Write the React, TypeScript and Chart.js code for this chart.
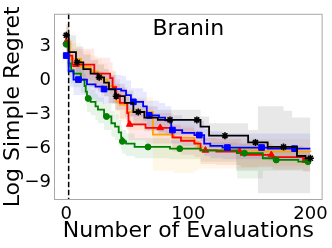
import React, { useEffect, useRef } from 'react';
import { Chart, registerables } from 'chart.js';
Chart.register(...registerables);

const FONT = 'DejaVu Sans';

const TITLE = 'Branin';
const X_LABEL = 'Number of Evaluations';
const Y_LABEL = 'Log Simple Regret';
const X_TICKS = [0, 100, 200];
const Y_TICKS = [-9, -6, -3, 0, 3];
const VLINE_X = 2;

// Black (star markers)
const blackX = [0, 2, 8, 14, 20, 26, 31, 35, 40, 48, 55, 64, 75, 110, 117, 139, 149, 157, 165, 178, 185, 189, 196, 200];
const blackY = [4.0, 2.5, 1.6, 1.0, 0.6, 0.27, -0.2, -0.8, -1.4, -2.0, -2.8, -3.3, -3.5, -4.1, -4.9, -4.9, -5.5, -5.5, -5.9, -5.9, -5.9, -6.7, -6.9, -6.9];
const blackUp = [5.0, 4.0, 3.0, 2.3, 1.8, 1.4, 1.0, 0.4, -0.3, -0.9, -1.7, -2.3, -2.6, -3.2, -3.8, -3.8, -4.4, -2.3, -2.3, -2.7, -3.3, -3.3, -3.3, -3.3];
const blackLo = [2.8, 1.2, 0.3, -0.3, -0.6, -1.0, -1.4, -2.0, -2.6, -3.2, -4.0, -4.5, -4.8, -5.4, -6.0, -8.0, -8.0, -10.0, -10.0, -10.0, -10.0, -10.0, -10.0, -10.0];
const blackMarks = [0, 9, 27, 41, 59, 85, 107, 130, 155, 178, 200];

// Blue (square markers)
const blueX = [0, 2, 6, 17, 24, 30, 45, 49, 53, 63, 66, 76, 81, 86, 95, 105, 113, 118, 128, 165, 200];
const blueY = [2.2, 0.8, 0.07, -0.35, -0.55, -0.77, -0.9, -1.3, -1.9, -2.3, -3.1, -3.3, -3.55, -4.4, -4.65, -4.85, -5.6, -5.8, -5.95, -6.05, -6.05];
const blueUp = [3.6, 2.2, 1.4, 1.0, 0.8, 0.5, 0.4, 0.0, -0.7, -1.0, -1.8, -2.0, -2.3, -3.1, -3.4, -3.6, -4.3, -4.5, -4.7, -4.7, -4.7];
const blueLo = [0.8, -0.6, -1.3, -1.7, -1.9, -2.1, -2.2, -2.6, -3.2, -3.6, -4.4, -4.6, -4.8, -5.6, -5.8, -6.0, -6.7, -6.9, -7.0, -7.1, -7.1];
const blueMarks = [0, 10, 31, 55, 68, 87, 109, 132, 160, 187];

// Red (triangle markers)
const redX = [0, 2, 5, 23, 36, 38, 41, 44, 50, 51, 65, 87, 94, 105, 110, 123, 143, 169, 194, 200];
const redY = [3.4, 2.2, 1.4, 0.6, 0.2, -0.6, -1.3, -2.0, -2.9, -3.9, -4.2, -5.05, -5.35, -5.6, -6.2, -6.3, -6.6, -6.8, -7.1, -7.1];
const redUp = [4.8, 3.6, 2.8, 2.0, 1.6, 0.8, 0.1, -0.6, -1.5, -2.5, -2.9, -3.9, -4.2, -4.5, -5.1, -5.2, -5.6, -5.8, -6.2, -6.2];
const redLo = [2.0, 0.8, 0.0, -0.8, -1.2, -2.0, -2.7, -3.4, -4.3, -5.3, -5.6, -6.3, -6.6, -6.8, -7.4, -7.5, -7.7, -7.9, -8.1, -8.1];
const redMarks = [0, 8, 52, 77, 114, 142, 168, 196];

// Orange (no markers)
const orangeX = [0, 3, 12, 20, 26, 29, 34, 40, 41, 44, 50, 71, 88, 105, 108, 111, 157, 200];
const orangeY = [3.4, 1.9, 1.2, 0.8, 0.5, 0.07, -0.5, -1.4, -1.9, -2.15, -2.8, -4.8, -5.1, -5.5, -5.9, -6.2, -6.3, -6.35];
const orangeUp = [4.8, 3.3, 2.6, 2.2, 1.9, 1.5, 0.9, 0.0, -0.5, -0.8, -1.5, -3.6, -4.0, -4.4, -4.8, -5.1, -5.2, -5.2];
const orangeLo = [2.0, 0.5, -0.2, -0.6, -0.9, -1.4, -2.0, -2.9, -3.4, -3.7, -4.4, -8.0, -8.2, -8.0, -7.8, -7.8, -7.6, -7.6];
const orangeMarks: number[] = [];

// Green (circle markers)
const greenX = [0, 2, 4, 6, 12, 15, 16, 17, 20, 24, 26, 31, 37, 40, 43, 45, 46, 49, 56, 85, 110, 140, 161, 170, 190, 200];
const greenY = [3.2, 1.5, 0.9, 0.6, 0.07, -0.5, -1.0, -1.6, -1.9, -2.3, -2.6, -3.2, -3.8, -4.1, -4.6, -5.07, -5.4, -5.6, -5.9, -6.05, -6.2, -6.45, -6.9, -7.05, -7.2, -7.2];
const greenUp = [4.4, 2.7, 2.1, 1.8, 1.2, 0.6, 0.1, -0.5, -0.8, -1.2, -1.5, -2.1, -2.7, -3.0, -3.5, -4.0, -4.4, -4.7, -5.1, -5.3, -5.5, -5.6, -6.0, -6.2, -6.4, -6.4];
const greenLo = [2.0, 0.3, -0.3, -0.6, -1.1, -1.7, -2.2, -2.8, -3.1, -3.5, -3.8, -4.4, -5.0, -5.3, -5.8, -6.2, -6.5, -6.7, -6.9, -7.0, -7.2, -8.7, -8.0, -8.0, -8.0, -8.0];
const greenMarks = [0, 18, 33, 46, 67, 93, 146, 172, 198];

type S = {
  X: number[]; Y: number[]; U: number[]; L: number[]; M: number[];
  color: string; band: string; style: any; radius: number; bw: number; z: number;
};

const SERIES: S[] = [
  { X: blackX, Y: blackY, U: blackUp, L: blackLo, M: blackMarks, color: '#000000', band: 'rgba(0,0,0,0.09)', style: 'star', radius: 3.5, bw: 1.6, z: 0 },
  { X: blueX, Y: blueY, U: blueUp, L: blueLo, M: blueMarks, color: '#0000ff', band: 'rgba(0,0,255,0.09)', style: 'rect', radius: 4, bw: 1, z: 1 },
  { X: greenX, Y: greenY, U: greenUp, L: greenLo, M: greenMarks, color: '#008000', band: 'rgba(0,128,0,0.09)', style: 'circle', radius: 3, bw: 1, z: 2 },
  { X: redX, Y: redY, U: redUp, L: redLo, M: redMarks, color: '#ff0000', band: 'rgba(255,0,0,0.09)', style: 'triangle', radius: 3.8, bw: 1, z: 3 },
  { X: orangeX, Y: orangeY, U: orangeUp, L: orangeLo, M: orangeMarks, color: '#ffa500', band: 'rgba(255,165,0,0.09)', style: 'circle', radius: 3, bw: 1, z: 4 },
];

const pts = (xs: number[], ys: number[]) => xs.map((x, i) => ({ x, y: ys[i] }));
const stepAt = (xs: number[], ys: number[], x: number) => {
  let v = ys[0];
  for (let i = 0; i < xs.length; i++) if (xs[i] <= x) v = ys[i];
  return v;
};

const minus = (v: number) => (v < 0 ? '\u2212' + Math.abs(v) : String(v));

const decorPlugin = {
  id: 'decor',
  beforeDatasetsDraw(chart: any) {
    const { ctx, chartArea: a, scales } = chart;
    const x = scales.x.getPixelForValue(VLINE_X);
    ctx.save();
    ctx.strokeStyle = '#000';
    ctx.lineWidth = 1.5;
    ctx.setLineDash([5.5, 2.5]);
    ctx.beginPath();
    ctx.moveTo(x, a.top);
    ctx.lineTo(x, a.bottom);
    ctx.stroke();
    ctx.restore();
  },
  afterDraw(chart: any) {
    const { ctx, chartArea: a } = chart;
    ctx.save();
    ctx.strokeStyle = '#a8a8a8';
    ctx.lineWidth = 1;
    ctx.strokeRect(a.left + 0.5, a.top + 0.5, a.right - a.left - 1, a.bottom - a.top - 1);
    ctx.fillStyle = '#000';
    ctx.font = `22px "${FONT}"`;
    ctx.textAlign = 'center';
    ctx.textBaseline = 'alphabetic';
    ctx.fillText(TITLE, (a.left + a.right) / 2, a.top + 21);
    ctx.restore();
  },
};

export default function App() {
  const ref = useRef<HTMLCanvasElement | null>(null);
  useEffect(() => {
    document.body.style.margin = '0';
    const datasets: any[] = [];
    SERIES.forEach((s) => {
      datasets.push({
        data: pts(s.X, s.U), stepped: true, borderWidth: 0, pointRadius: 0,
        backgroundColor: s.band, fill: '+1', order: 20 + s.z,
      });
      datasets.push({
        data: pts(s.X, s.L), stepped: true, borderWidth: 0, pointRadius: 0,
        fill: false, order: 20 + s.z,
      });
      datasets.push({
        data: pts(s.X, s.Y), stepped: true, borderColor: s.color, borderWidth: 1.8,
        pointRadius: 0, fill: false, order: s.z * 2 + 1,
      });
      if (s.M.length) {
        datasets.push({
          data: s.M.map((x) => ({ x, y: stepAt(s.X, s.Y, x) })),
          showLine: false, pointStyle: s.style, pointRadius: s.radius,
          pointBorderWidth: s.bw, borderColor: s.color, backgroundColor: s.color,
          pointBackgroundColor: s.color, pointBorderColor: s.color,
          order: s.z * 2,
        });
      }
    });
    const chart = new Chart(ref.current as HTMLCanvasElement, {
      type: 'line',
      data: { datasets },
      options: {
        animation: false,
        responsive: false,
        devicePixelRatio: 1,
        layout: { padding: { top: 2, right: 9, left: 0, bottom: 0 } },
        plugins: { legend: { display: false }, tooltip: { enabled: false }, title: { display: false } },
        scales: {
          x: {
            type: 'linear', min: -10, max: 210,
            grid: { display: false, drawTicks: false }, border: { display: false },
            afterBuildTicks: (s: any) => { s.ticks = X_TICKS.map((v) => ({ value: v })); },
            afterFit: (s: any) => { s.height = 48; },
            ticks: { color: '#000', padding: 4, maxRotation: 0, autoSkip: false, font: { family: FONT, size: 18 }, callback: (v: any) => minus(Number(v)) },
            title: { display: true, text: X_LABEL, color: '#000', font: { family: FONT, size: 22 }, padding: { top: 0, bottom: 4 } },
          },
          y: {
            type: 'linear', min: -10.6, max: 5.9,
            grid: { display: false, drawTicks: false }, border: { display: false },
            afterBuildTicks: (s: any) => { s.ticks = Y_TICKS.map((v) => ({ value: v })); },
            afterFit: (s: any) => { s.width = 54; },
            ticks: { color: '#000', padding: 3, autoSkip: false, font: { family: FONT, size: 18 }, callback: (v: any) => minus(Number(v)) },
            title: { display: true, text: Y_LABEL, color: '#000', font: { family: FONT, size: 22 }, padding: { top: 0, bottom: 0 } },
          },
        },
      },
      plugins: [decorPlugin],
    });
    return () => chart.destroy();
  }, []);
  return (
    <div style={{ position: 'fixed', left: 0, top: 0, width: 332, height: 248 }}>
      <canvas ref={ref} width={332} height={248} style={{ display: 'block', width: 332, height: 248 }} />
    </div>
  );
}
